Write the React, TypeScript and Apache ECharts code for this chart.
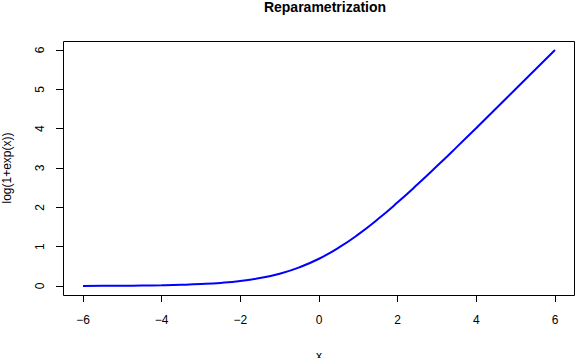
import React, { useEffect, useRef } from "react";
import * as echarts from "echarts";

const xValues = [-6, -5.5, -5, -4.5, -4, -3.5, -3, -2.5, -2, -1.5, -1, -0.5, 0, 0.5, 1, 1.5, 2, 2.5, 3, 3.5, 4, 4.5, 5, 5.5, 6];
const yValues = [0.0025, 0.004, 0.0067, 0.011, 0.018, 0.03, 0.049, 0.079, 0.127, 0.201, 0.313, 0.474, 0.693, 0.974, 1.313, 1.701, 2.127, 2.579, 3.049, 3.53, 4.018, 4.511, 5.007, 5.504, 6.002];
const xTicks = [-6, -4, -2, 0, 2, 4, 6];
const yTicks = [0, 1, 2, 3, 4, 5, 6];

const FONT = "'Liberation Sans', Arial, Helvetica, sans-serif";

export default function App() {
  const ref = useRef<HTMLDivElement>(null);
  useEffect(() => {
    if (!ref.current) return;
    const chart = echarts.init(ref.current, null, { renderer: "svg" });
    const data = xValues.map((x, i) => [x, yValues[i]]);
    chart.setOption({
      animation: false,
      backgroundColor: "#ffffff",
      textStyle: { fontFamily: FONT },
      title: {
        text: "Reparametrization",
        left: 320,
        top: -5,
        textAlign: "center",
        textStyle: { fontFamily: FONT, fontSize: 14, fontWeight: "bold", color: "#000" },
      },
      grid: { left: 83, width: 472, top: 50, height: 236, containLabel: false },
      xAxis: {
        type: "value",
        min: xTicks[0],
        max: xTicks[xTicks.length - 1],
        interval: 2,
        offset: 9,
        axisLine: { show: false, onZero: false },
        axisTick: { show: true, length: 7, lineStyle: { color: "#000" } },
        splitLine: { show: false },
        axisLabel: {
          margin: 19,
          fontSize: 12,
          color: "#000",
          fontFamily: FONT,
          formatter: (v: number) => (v < 0 ? "\u2212" + Math.abs(v) : String(v)),
        },
      },
      yAxis: {
        type: "value",
        min: yTicks[0],
        max: yTicks[yTicks.length - 1],
        interval: 1,
        offset: 20,
        axisLine: { show: false, onZero: false },
        axisTick: { show: true, length: 7, lineStyle: { color: "#000" } },
        splitLine: { show: false },
        axisLabel: { margin: 17, fontSize: 12, color: "#000", rotate: 90, fontFamily: FONT },
      },
      graphic: [
        {
          type: "rect",
          shape: { x: 63.5, y: 41.5, width: 511, height: 254 },
          style: { fill: "none", stroke: "#000", lineWidth: 1 },
          silent: true,
        },
        {
          type: "text",
          x: 319,
          y: 356,
          style: { text: "x", fill: "#000", font: "12px " + FONT, textAlign: "center", textVerticalAlign: "middle" },
        },
        {
          type: "text",
          x: 7,
          y: 168,
          rotation: Math.PI / 2,
          style: { text: "log(1+exp(x))", fill: "#000", font: "12px " + FONT, textAlign: "center", textVerticalAlign: "middle" },
        },
      ],
      series: [
        {
          type: "line",
          data,
          smooth: true,
          showSymbol: false,
          lineStyle: { color: "#0000ff", width: 2 },
        },
      ],
    });
    return () => chart.dispose();
  }, []);
  return <div ref={ref} style={{ width: 576, height: 358, position: "absolute", left: 0, top: 0 }} />;
}
